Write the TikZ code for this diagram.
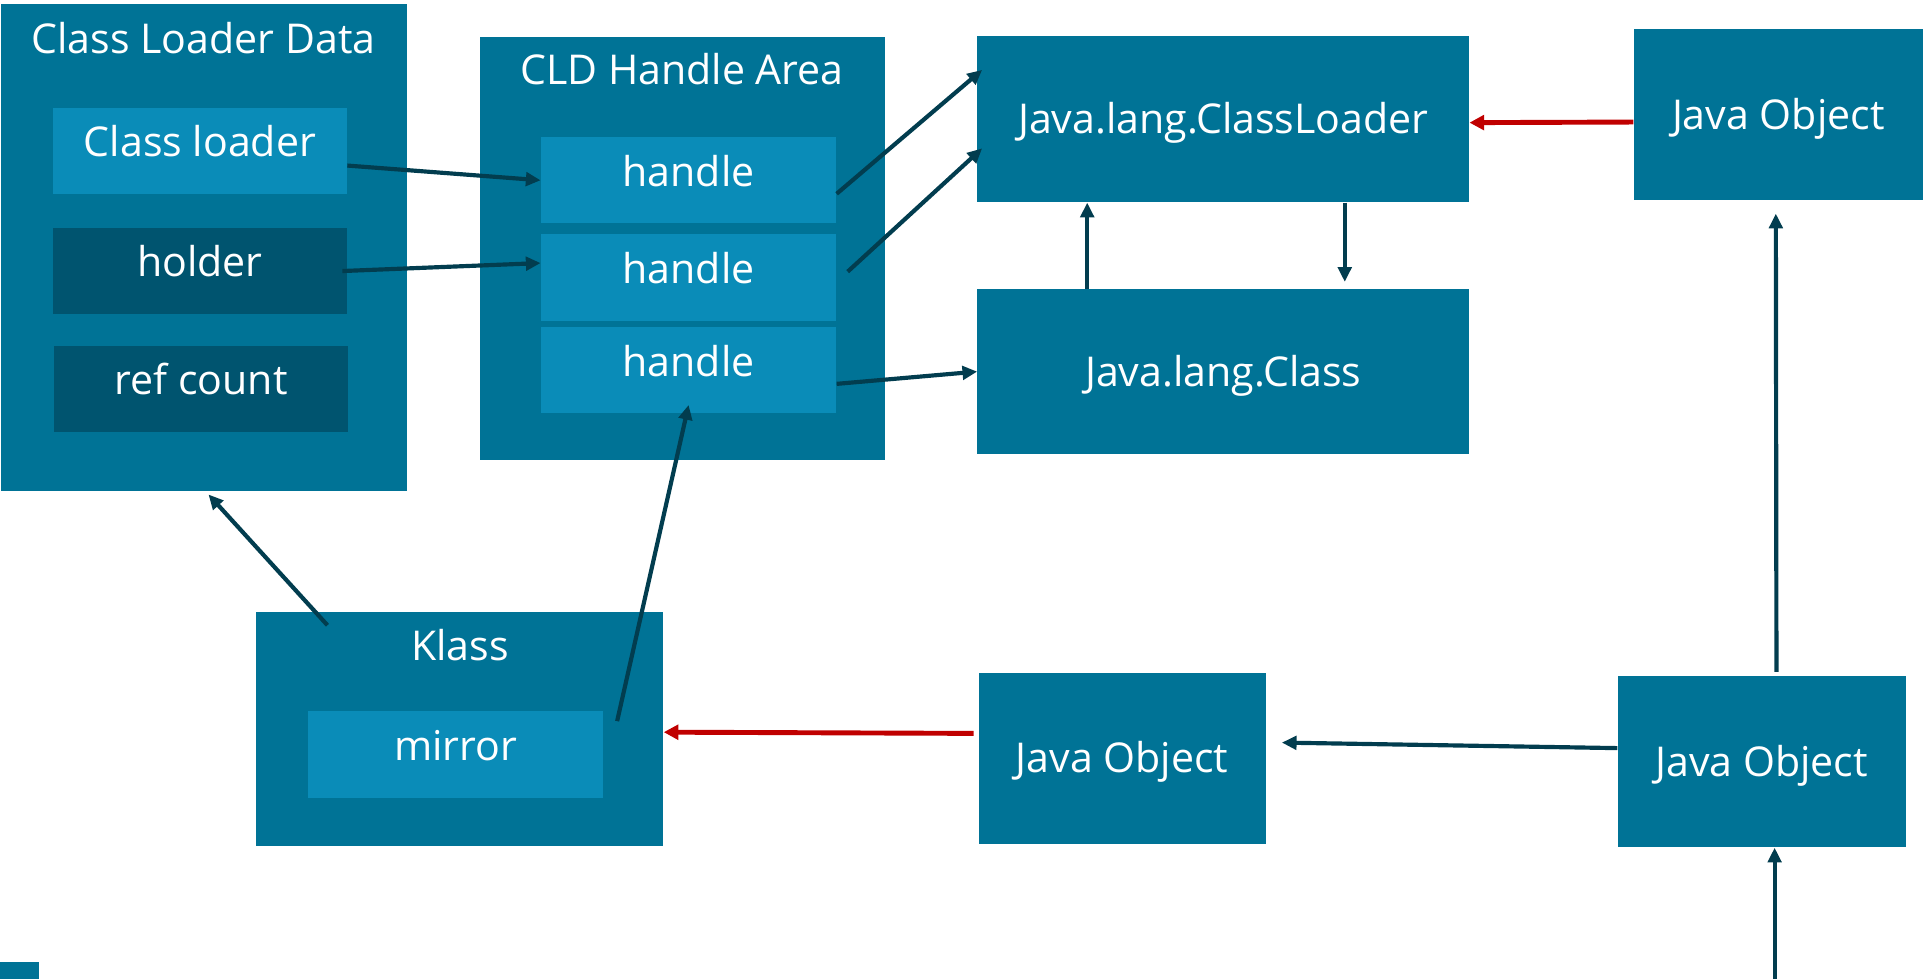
\documentclass[tikz,border=0pt]{standalone}
\usepackage{fontspec}
\setmainfont{Open Sans}
\usepackage{tikz}
\usetikzlibrary{arrows.meta}

\definecolor{boxblue}{HTML}{007396}
\definecolor{fieldblue}{HTML}{0A8CB8}
\definecolor{fielddark}{HTML}{00546F}
\definecolor{ptrcol}{HTML}{023D4F}
\definecolor{refred}{HTML}{C00000}

\tikzset{
  font={\fontsize{33.5pt}{40pt}\selectfont}}
\tikzset{
  box/.style={fill=boxblue, text=white, inner sep=0pt, text height=23.5pt, text depth=0pt},
  field/.style={box, fill=fieldblue, text depth=14pt},
  darkfield/.style={field, fill=fielddark},
  boxtitle/.style={text=white, inner sep=0pt, text height=23.5pt, text depth=0pt},
  ptrarrow/.style={draw=ptrcol, line width=3.4pt, -{Triangle[length=12pt,width=11pt]}},
  redarrow/.style={draw=refred, line width=4pt, -{Triangle[length=12pt,width=12pt]}}}

\begin{document}
\begin{tikzpicture}[x=1pt,y=-1pt]
\useasboundingbox (0,0) rectangle (1568,798);

%% Class loader data with its three fields
\node[box, minimum width=331pt, minimum height=397pt] (cld) at (166.5,201.5) {};
\node[boxtitle] (cldTitle) at (166,32) {Class Loader Data};
\node[field, minimum width=240pt, minimum height=70pt] (clsl) at (163,123) {Class loader};
\node[darkfield, minimum width=240pt, minimum height=70pt] (holder) at (163,221) {holder};
\node[darkfield, minimum width=240pt, minimum height=70pt] (refc) at (164,317) {ref count};

%% The handle area
\node[box, minimum width=331pt, minimum height=345pt] (area) at (556.5,202.5) {};
\node[boxtitle] (areaTitle) at (556,57) {CLD Handle Area};
\node[field, minimum width=241pt, minimum height=70pt] (h1) at (561.5,147) {handle};
\node[field, minimum width=241pt, minimum height=71pt] (h2) at (561.5,226.5) {handle};
\node[field, minimum width=241pt, minimum height=70pt] (h3) at (561.5,302) {handle};

%% Java side
\node[box, minimum width=401pt, minimum height=136pt] (loader) at (997.5,97) {Java.lang.ClassLoader};
\node[box, minimum width=401pt, minimum height=134pt] (cls) at (997.5,303) {Java.lang.Class};
\node[box, minimum width=236pt, minimum height=139pt] (objA) at (1450,93.5) {Java Object};
\node[box, minimum width=234pt, minimum height=139pt] (objB) at (915,618.5) {Java Object};
\node[box, minimum width=235pt, minimum height=140pt] (objC) at (1436.5,621) {Java Object};

%% Klass with its mirror field
\node[box, minimum width=332pt, minimum height=191pt] (klass) at (375,594.5) {};
\node[boxtitle] (klassTitle) at (375,527) {Klass};
\node[field, minimum width=241pt, minimum height=71pt] (mirror) at (371.5,615.5) {mirror};

%% small mark in the corner
\fill[boxblue] (0,784) rectangle (32,798);

%% The pointers
\draw[ptrarrow] ([yshift=-12pt]clsl.east) -- (h1.west);
\draw[ptrarrow] ([xshift=-4pt]holder.east) -- ([yshift=12pt]h2.west);
\draw[ptrarrow] ([yshift=-11pt]h1.east) -- ([xshift=4pt,yshift=40pt]loader.west);
\draw[ptrarrow] ([xshift=9pt,yshift=5pt]h2.east) -- ([xshift=4pt,yshift=-24pt]loader.west);
\draw[ptrarrow] ([yshift=-11pt]h3.east) -- (cls.west);
\draw[ptrarrow] ([xshift=-111pt]cls.north) -- ([xshift=-111pt]loader.south);
\draw[ptrarrow] ([xshift=99pt]loader.south) -- ([xshift=99pt,yshift=6pt]cls.north);
\draw[redarrow] ([yshift=-6pt]objA.west) -- ([yshift=-3pt]loader.east);
\draw[ptrarrow] ([xshift=12pt,yshift=3pt]objC.north) -- ([xshift=-2pt,yshift=-11pt]objA.south);
\draw[ptrarrow] ([yshift=11pt]objC.west) -- ([xshift=13pt,yshift=13pt]objB.east);
\draw[redarrow] ([xshift=-4pt,yshift=20.5pt]objB.west) -- ([yshift=-2.5pt]klass.east);
\draw[ptrarrow] ([xshift=-108pt,yshift=-11pt]klass.north) -- ([xshift=3.5pt,yshift=-3pt]cld.south);
\draw[ptrarrow] ([xshift=11pt,yshift=27.5pt]mirror.east) -- ([yshift=7pt]h3.south);
\coordinate (objIn) at (1447,798);
\draw[ptrarrow] (objIn) -- (objIn |- objC.south);
\end{tikzpicture}
\end{document}
